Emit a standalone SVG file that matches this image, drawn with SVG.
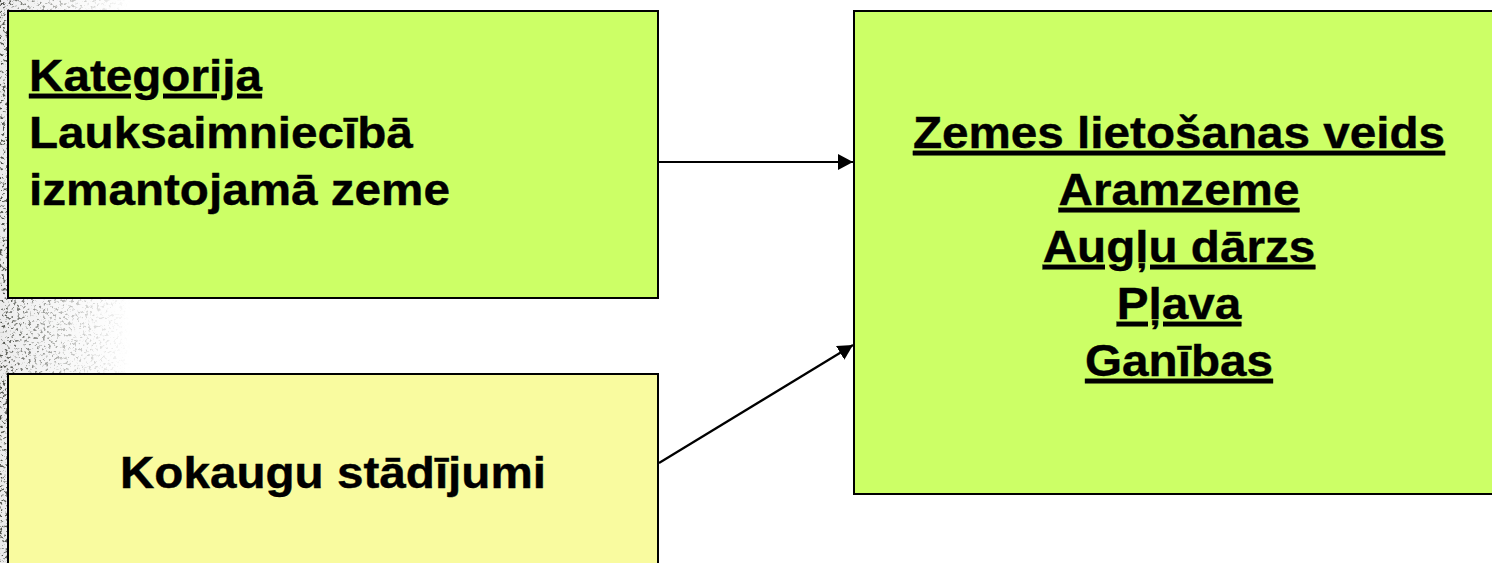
<svg xmlns="http://www.w3.org/2000/svg" width="1492" height="563" viewBox="0 0 1492 563">
  <style>
    .box { stroke: #000; stroke-width: 2; }
    .green { fill: #CCFF66; }
    .yellow { fill: #F9FB9F; }
    .t { font-family: "Liberation Sans", Arial, sans-serif; font-weight: bold; font-size: 43.5px; fill: #000; stroke: #000; stroke-width: 0.4px; }
    .u { text-decoration: underline; text-decoration-thickness: 4px; text-underline-offset: 6px; }
    .conn { stroke: #000; stroke-width: 2.2; fill: none; marker-end: url(#arrow); }
  </style>
  <defs>
    <marker id="arrow" markerUnits="userSpaceOnUse" markerWidth="17" markerHeight="17" refX="15" refY="8" orient="auto">
      <path d="M0,0 L15,8 L0,16 Z" fill="#000"/>
    </marker>
    <linearGradient id="fade" x1="0" y1="0" x2="1" y2="0">
      <stop offset="0" stop-color="#000" stop-opacity="1"/>
      <stop offset="0.12" stop-color="#000" stop-opacity="0.75"/>
      <stop offset="0.5" stop-color="#000" stop-opacity="0.35"/>
      <stop offset="1" stop-color="#000" stop-opacity="0"/>
    </linearGradient>
    <filter id="granite" x="0" y="0" width="100%" height="100%" color-interpolation-filters="sRGB">
      <feTurbulence type="fractalNoise" baseFrequency="0.35" numOctaves="3" seed="11" result="n"/>
      <feColorMatrix in="n" type="matrix" values="0 0 0 0 0.3  0 0 0 0 0.31  0 0 0 0 0.28  6 0 0 0 -3.3" result="s"/>
      <feComposite in="s" in2="SourceAlpha" operator="in"/>
    </filter>
  </defs>

  <rect width="1492" height="563" fill="#fff"/>
  <g id="background-texture">
    <rect x="0" y="0" width="130" height="563" fill="url(#fade)" opacity="0.08"/>
    <rect x="0" y="0" width="130" height="563" fill="url(#fade)" filter="url(#granite)"/>
  </g>

  <g id="connectors">
    <line class="conn" x1="659" y1="162" x2="853" y2="162"/>
    <line class="conn" x1="659" y1="463" x2="853" y2="345"/>
  </g>

  <g id="node-kategorija">
    <rect class="box green" x="8" y="11" width="650" height="287"/>
    <g transform="translate(29,0) scale(1.095,1)">
      <text class="t u" x="0" y="91">Kategorija</text>
      <text class="t" x="0" y="148">Lauksaimniecībā</text>
      <text class="t" x="0" y="205">izmantojamā zeme</text>
    </g>
  </g>

  <g id="node-kokaugu">
    <rect class="box yellow" x="8" y="374" width="650" height="200"/>
    <g transform="translate(333,0) scale(1.095,1)">
      <text class="t" x="0" y="488" text-anchor="middle">Kokaugu stādījumi</text>
    </g>
  </g>

  <g id="node-zemes-veids">
    <rect class="box green" x="854" y="11" width="650" height="483"/>
    <g transform="translate(1179,0) scale(1.095,1)" text-anchor="middle">
      <text class="t u" x="0" y="148">Zemes lietošanas veids</text>
      <text class="t u" x="0" y="205">Aramzeme</text>
      <text class="t u" x="0" y="262">Augļu dārzs</text>
      <text class="t u" x="0" y="319">Pļava</text>
      <text class="t u" x="0" y="376">Ganības</text>
    </g>
  </g>
</svg>
